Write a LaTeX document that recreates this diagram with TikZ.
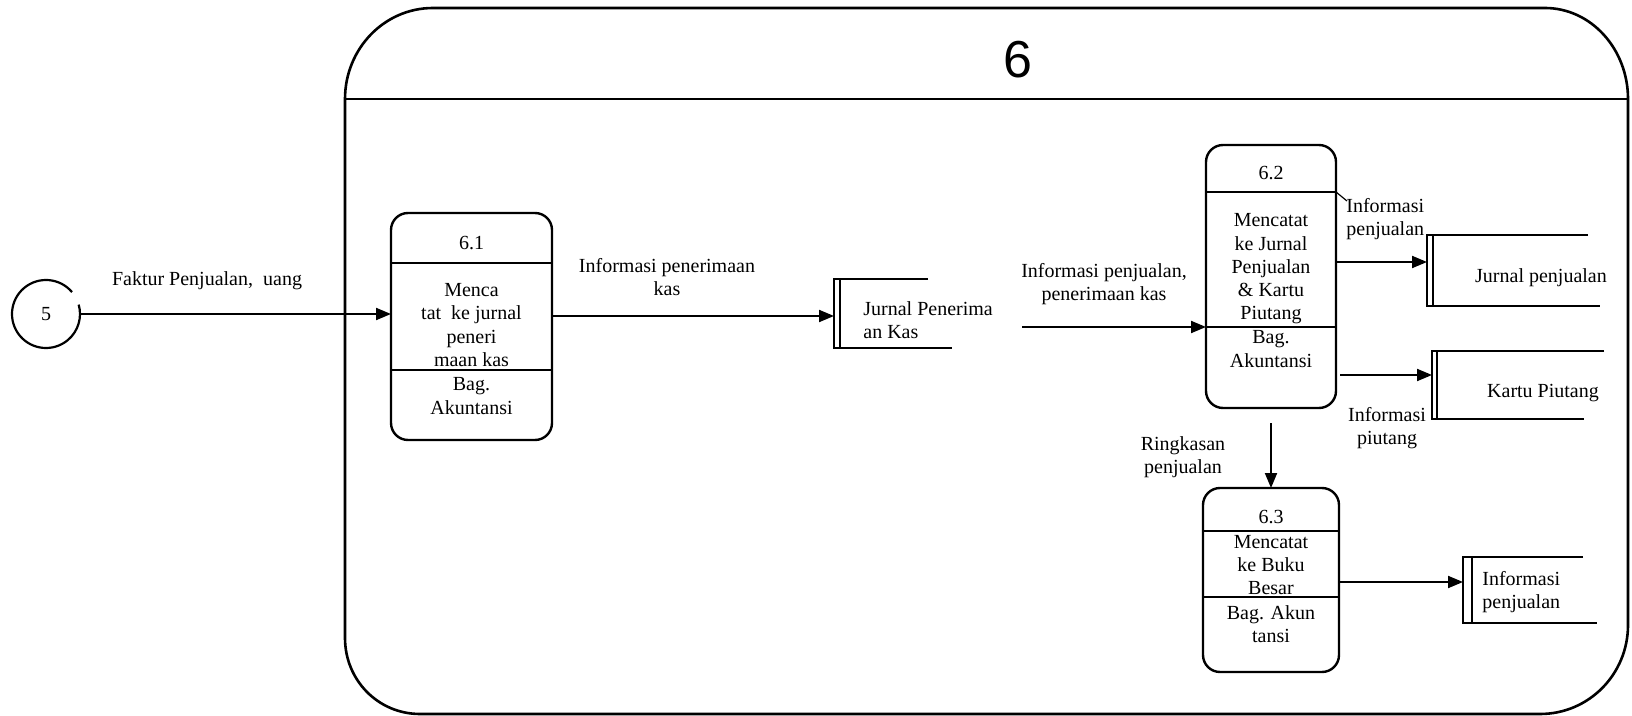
\documentclass[tikz,border=0pt]{standalone}
\usepackage{fontspec}
\setmainfont{Liberation Serif}
\newfontfamily\titlefont{Liberation Sans}
\usetikzlibrary{arrows.meta,calc}
\begin{document}
\begin{tikzpicture}[x=0.5pt,y=-0.5pt,
  frame/.style={line width=1.3pt},
  proc/.style={draw,line width=1.2pt,rounded corners=8.5pt,inner sep=0pt,outer sep=0pt},
  sep/.style={line width=1.2pt},
  flow/.style={line width=1pt,-{Triangle[length=7.5pt,width=6pt]}},
  storeline/.style={line width=1.2pt},
  txt/.style={font=\fontsize{10pt}{11.6pt}\selectfont,inner sep=0pt,align=center},
  txtl/.style={font=\fontsize{10pt}{11.6pt}\selectfont,inner sep=0pt,align=left,anchor=west}]
\useasboundingbox (0,0) rectangle (1632,716);

% outer process 6 frame
\draw[frame] (345,638) -- (345,99)
  .. controls (345,49) and (384,8) .. (433,8) -- (1545,8)
  .. controls (1591,8) and (1628,49) .. (1628,99) -- (1628,625)
  .. controls (1628,674) and (1589,714) .. (1540,714) -- (420,714)
  .. controls (378,714) and (345,680) .. (345,638) -- cycle;
\draw[frame] (345,99) -- (1628,99);
\node[font=\titlefont\fontsize{26pt}{26pt}\selectfont] (t6) at (1018,60) {6};

% external entity 5
\node[circle,minimum size=34pt,inner sep=0pt,outer sep=0pt,font=\fontsize{10pt}{12pt}\selectfont] (c5) at (46,314) {5};
\draw[line width=1.1pt] (c5.40) arc[start angle=40,end angle=376,radius=17pt];

% process 6.1
\node[proc,minimum width=80.5pt,minimum height=113.5pt] (p61) at (471.5,326.5) {};
\draw[sep] (391,263) -- (552,263);
\draw[sep] (391,370) -- (552,370);
\node[txt] (p61n) at (471.5,243) {6.1};
\node[txt] (p61b) at (471.5,325) {Menca\\tat\ \ ke jurnal\\peneri\\maan kas};
\node[txt] (p61u) at (471.5,396) {Bag.\\Akuntansi};

% process 6.2
\node[proc,minimum width=65pt,minimum height=131.5pt] (p62) at (1271,276.5) {};
\draw[sep] (1206,192) -- (1336,192);
\draw[sep] (1206,327) -- (1336,327);
\node[txt] (p62n) at (1271,173) {6.2};
\node[txt] (p62b) at (1271,269) {Mencatat\\ke Jurnal\\Penjualan\\\& Kartu\\Piutang};
\node[txt] (p62u) at (1271,349) {Bag.\\Akuntansi};

% process 6.3
\node[proc,minimum width=68pt,minimum height=92pt] (p63) at (1271,580) {};
\draw[sep] (1203,531) -- (1339,531);
\draw[sep] (1203,597) -- (1339,597);
\node[txt] (p63n) at (1271,517) {6.3};
\node[txt] (p63b) at (1271,565) {Mencatat\\ke Buku\\Besar};
\node[txt] (p63u) at (1271,624) {Bag. Akun\\tansi};

% data stores
\coordinate (s1) at (834,316);
\draw[storeline] (928,279) -- (834,279) -- (834,348) -- (952,348);
\draw[storeline] (840,279) -- (840,348);
\node[txtl] (s1t) at (863,320) {Jurnal Penerima\\an Kas};

\coordinate (s2) at (1427,262);
\draw[storeline] (1588,235) -- (1427,235) -- (1427,306) -- (1600,306);
\draw[storeline] (1433,235) -- (1433,306);
\node[txt] (s2t) at (1541,278) {Jurnal penjualan};

\coordinate (s3) at (1432,375);
\draw[storeline] (1604,351) -- (1432,351) -- (1432,419) -- (1584,419);
\draw[storeline] (1437,351) -- (1437,419);
\node[txt] (s3t) at (1543,393) {Kartu Piutang};

\coordinate (s4) at (1463,582);
\draw[storeline] (1583,557) -- (1463,557) -- (1463,623) -- (1597,623);
\draw[storeline] (1472,557) -- (1472,623);
\node[txtl] (s4t) at (1482,592) {Informasi\\penjualan};

% data flows
\draw[flow] (c5.east) -- (c5.east -| p61.west);
\node[txt] (l1) at (207,281) {Faktur Penjualan,\ \ uang};

\draw[flow] (p61.east |- s1) -- (s1);
\node[txt] (l2) at (667,277) {Informasi penerimaan\\kas};

\coordinate (f62) at (1022,327);
\draw[flow] (f62) -- (f62 -| p62.west);
\node[txt] (l3) at (1104,284) {Informasi penjualan,\\penerimaan kas};

\draw[flow] (s2 -| p62.east) -- (s2);
\node[txtl] (l4) at (1346,219) {Informasi\\penjualan};
\draw[line width=0.6pt] (1336,192) -- (1347,201);

\draw[flow] ([xshift=2pt]s3 -| p62.east) -- (s3);
\node[txt] (l5) at (1387,428) {Informasi\\piutang};

\draw[flow] ([yshift=-7.5pt]p62.south) -- (p63.north);
\node[txt] (l6) at (1183,457) {Ringkasan\\penjualan};

\draw[flow] (s4 -| p63.east) -- (s4);
\end{tikzpicture}
\end{document}
